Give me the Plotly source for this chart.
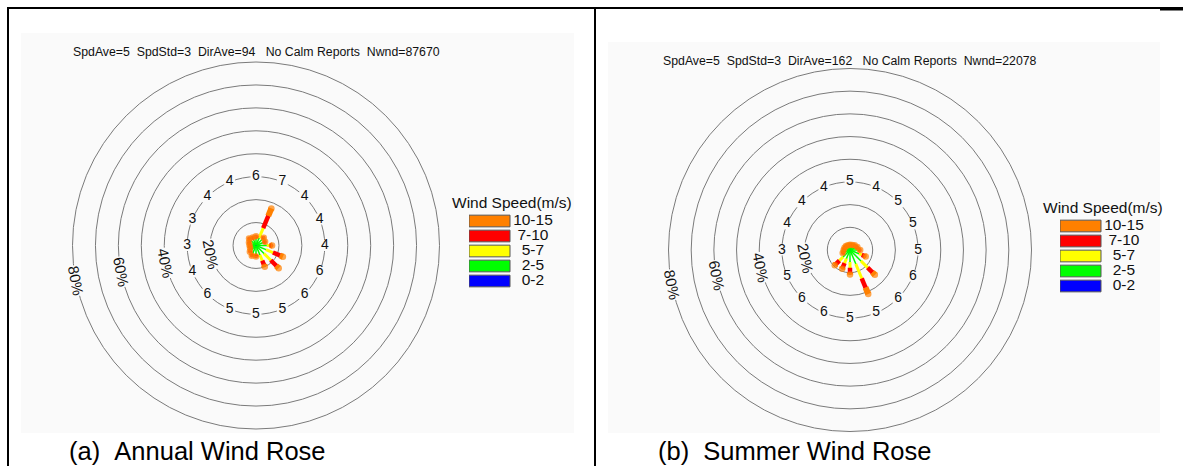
import numpy as np
import plotly.graph_objects as go

# ---------------- data ----------------
directions = ["N", "NNE", "NE", "ENE", "E", "ESE", "SE", "SSE",
              "S", "SSW", "SW", "WSW", "W", "WNW", "NW", "NNW"]
bearings = [0, 22.5, 45, 67.5, 90, 112.5, 135, 157.5,
            180, 202.5, 225, 247.5, 270, 292.5, 315, 337.5]
speed_classes = ["0-2", "2-5", "5-7", "7-10", "10-15"]
class_colors = ["#0000ff", "#00ff00", "#ffff00", "#ff0000", "#ff8000"]
ring_values = [10, 20, 30, 40, 50, 60, 70, 80]
ring_label_values = [20, 40, 60, 80]

# Annual wind rose: frequency (%) per speed class and direction
annual_0_2 = [0.3, 0.3, 0.3, 0.3, 0.3, 0.3, 0.3, 0.3, 0.3, 0.3, 0.3, 0.3, 0.3, 0.3, 0.3, 0.3]
annual_2_5 = [2.9, 3.3, 3.4, 3.1, 4.4, 4.4, 4.6, 4.2, 3.4, 3.4, 2.7, 2.0, 2.1, 2.4, 3.1, 2.8]
annual_5_7 = [0.4, 4.6, 0.6, 0.5, 1.3, 3.3, 4.2, 2.6, 0.6, 0.6, 0.4, 0.3, 0.2, 0.3, 0.5, 0.4]
annual_7_10 = [0.2, 5.8, 0.3, 0.2, 0.6, 3.3, 3.4, 2.0, 0.3, 0.3, 0.2, 0.1, 0.1, 0.2, 0.2, 0.2]
annual_10_15 = [0.2, 3.5, 0.2, 0.2, 0.4, 1.4, 1.5, 0.9, 0.2, 0.2, 0.2, 0.1, 0.1, 0.1, 0.2, 0.1]
annual_avg_speed = [6, 7, 4, 4, 4, 6, 6, 5, 5, 5, 6, 4, 3, 3, 4, 4]
annual_stats = "SpdAve=5  SpdStd=3  DirAve=94   No Calm Reports  Nwnd=87670"
annual_caption = "(a)  Annual Wind Rose"

# Summer wind rose
summer_0_2 = [0.3, 0.3, 0.3, 0.3, 0.3, 0.3, 0.3, 0.3, 0.3, 0.3, 0.3, 0.3, 0.3, 0.3, 0.3, 0.3]
summer_2_5 = [1.5, 1.6, 2.0, 2.3, 3.0, 4.0, 6.5, 6.3, 5.0, 3.8, 4.0, 2.3, 2.2, 1.8, 1.7, 1.5]
summer_5_7 = [0.3, 0.3, 0.3, 0.5, 0.6, 1.3, 4.2, 6.9, 2.5, 2.2, 2.3, 0.5, 0.2, 0.3, 0.3, 0.3]
summer_7_10 = [0.1, 0.1, 0.15, 0.2, 0.3, 1.3, 3.0, 4.4, 2.2, 2.0, 2.2, 0.2, 0.05, 0.1, 0.1, 0.1]
summer_10_15 = [0.1, 0.1, 0.15, 0.2, 0.3, 0.6, 1.5, 3.1, 0.8, 0.7, 0.7, 0.2, 0.05, 0.1, 0.1, 0.1]
summer_avg_speed = [5, 4, 5, 5, 5, 6, 6, 5, 5, 6, 6, 5, 3, 4, 4, 4]
summer_stats = "SpdAve=5  SpdStd=3  DirAve=162   No Calm Reports  Nwnd=22078"
summer_caption = "(b)  Summer Wind Rose"

# ---------------- styles / layout constants ----------------
W, H = 1183, 466
FONT = "Liberation Sans, Arial, sans-serif"
PANEL_BG = "#fafafa"
RING_COLOR = "#7a7a7a"
line_widths = [1.5, 1.5, 3.0, 4.5, 6.0]
cap_sizes = [3.5, 1.5, 3.0, 4.5, 6.5]
LABEL_ANGLE = 191  # math angle (deg, ccw from east) of the % labels

roses = [
    dict(classes=[annual_0_2, annual_2_5, annual_5_7, annual_7_10, annual_10_15],
         avg=annual_avg_speed, stats=annual_stats, caption=annual_caption,
         cx=256, cy=245.5, R=183.5, panel=(21, 33, 574, 433), stats_shift=10,
         legend_x=469, legend_top=213.5, caption_x=68),
    dict(classes=[summer_0_2, summer_2_5, summer_5_7, summer_7_10, summer_10_15],
         avg=summer_avg_speed, stats=summer_stats, caption=summer_caption,
         cx=850, cy=250, R=181.5, panel=(608, 42, 1160, 433), stats_shift=8,
         legend_x=1060, legend_top=218.5, caption_x=657),
]


def px_x(v):
    return v / W


def px_y(v):
    return (H - v) / H


fig = go.Figure()
layout = dict(
    width=W, height=H, margin=dict(l=0, r=0, t=0, b=0),
    paper_bgcolor="white", plot_bgcolor="rgba(0,0,0,0)",
    showlegend=False, hovermode=False, dragmode=False,
    font=dict(family=FONT, color="#111"),
    shapes=[], annotations=[],
)

for n, rose in enumerate(roses, start=1):
    sub = "polar" if n == 1 else f"polar{n}"
    xa = "x" if n == 1 else f"x{n}"
    ya = "y" if n == 1 else f"y{n}"
    cx, cy, R = rose["cx"], rose["cy"], rose["R"]
    xdom = [px_x(cx - R), px_x(cx + R)]
    ydom = [px_y(cy + R), px_y(cy - R)]

    # panel background
    x0, y0, x1, y1 = rose["panel"]
    layout["shapes"].append(dict(type="rect", xref="paper", yref="paper",
                                 x0=px_x(x0), x1=px_x(x1), y0=px_y(y1), y1=px_y(y0),
                                 fillcolor=PANEL_BG, line=dict(width=0), layer="below"))

    # polar subplot (rings)
    layout[sub] = dict(
        domain=dict(x=xdom, y=ydom),
        bgcolor="rgba(0,0,0,0)",
        radialaxis=dict(range=[0, 80], tickvals=ring_values, showticklabels=False,
                        ticks="", showline=False, gridcolor=RING_COLOR, gridwidth=1),
        angularaxis=dict(rotation=90, direction="clockwise", showgrid=False,
                         showticklabels=False, ticks="", showline=True,
                         linecolor=RING_COLOR, linewidth=1),
    )

    # average-speed labels on the 30% ring (masking the ring behind them)
    fig.add_trace(go.Scatterpolar(
        r=[30] * len(bearings), theta=bearings, mode="markers+text",
        text=[str(v) for v in rose["avg"]], textposition="middle center",
        textfont=dict(size=14, color="#111", family=FONT),
        marker=dict(symbol="square", size=11, color=PANEL_BG, line=dict(width=0)),
        subplot=sub, hoverinfo="skip"))

    # petals: stacked speed classes
    pct = np.array(rose["classes"], dtype=float)
    cum = np.cumsum(pct, axis=0)
    start = np.vstack([np.zeros(pct.shape[1]), cum[:-1]])
    for k in range(len(speed_classes)):
        r, th, ms = [], [], []
        for i, b in enumerate(bearings):
            r += [start[k, i], cum[k, i], None]
            th += [b, b, None]
            ms += [0, cap_sizes[k], 0]
        fig.add_trace(go.Scatterpolar(
            r=r, theta=th, mode="lines+markers",
            line=dict(color=class_colors[k], width=line_widths[k]),
            marker=dict(size=ms, color=class_colors[k], line=dict(width=0)),
            subplot=sub, hoverinfo="skip", connectgaps=False))

    # invisible cartesian overlay with the same geometry (for rotated % labels)
    xkey = "xaxis" if n == 1 else f"xaxis{n}"
    ykey = "yaxis" if n == 1 else f"yaxis{n}"
    layout[xkey] = dict(domain=xdom, range=[-80, 80], visible=False, anchor=ya, fixedrange=True)
    layout[ykey] = dict(domain=ydom, range=[-80, 80], visible=False, anchor=xa, fixedrange=True)
    ang = np.radians(LABEL_ANGLE)
    for rv in ring_label_values:
        layout["annotations"].append(dict(
            xref=xa, yref=ya, x=rv * np.cos(ang), y=rv * np.sin(ang),
            text=f"{rv}%", showarrow=False, textangle=90 - (LABEL_ANGLE - 180),
            xanchor="center", yanchor="middle", bgcolor=PANEL_BG, borderpad=0,
            font=dict(size=15, color="#111", family=FONT)))
    # statistics header
    layout["annotations"].append(dict(
        xref=xa, yref=ya, x=0, y=80, yshift=rose["stats_shift"],
        text=rose["stats"].replace(" ", "\u00a0"), showarrow=False,
        xanchor="center", yanchor="middle",
        font=dict(size=12.3, color="#111", family=FONT)))

    # legend as a small bar chart
    lx = "x" + str(n + 2)
    ly = "y" + str(n + 2)
    lt = rose["legend_top"]
    layout["xaxis" + str(n + 2)] = dict(domain=[px_x(rose["legend_x"]), px_x(rose["legend_x"] + 82)],
                                        range=[0, 2], visible=False, anchor=ly, fixedrange=True)
    layout["yaxis" + str(n + 2)] = dict(domain=[px_y(lt + 75), px_y(lt)], range=[-0.5, 4.5],
                                        type="category", categoryorder="array",
                                        categoryarray=speed_classes,
                                        visible=False, anchor=lx, fixedrange=True)
    fig.add_trace(go.Bar(
        y=speed_classes, x=[1] * len(speed_classes), orientation="h", width=0.78,
        marker=dict(color=class_colors, line=dict(color="#555", width=1)),
        xaxis=lx, yaxis=ly, hoverinfo="skip"))
    fig.add_trace(go.Scatter(
        y=speed_classes, x=[1.56] * len(speed_classes), mode="text", text=speed_classes,
        textposition="middle center", cliponaxis=False,
        textfont=dict(size=15.5, color="#111", family=FONT),
        xaxis=lx, yaxis=ly, hoverinfo="skip"))
    layout["annotations"].append(dict(
        xref=lx, yref=ly + " domain", x=1.06, y=1, yanchor="bottom", yshift=1,
        text="Wind Speed(m/s)", showarrow=False, xanchor="center",
        font=dict(size=15.5, color="#111", family=FONT)))

    # caption under the panel (anchored at its bottom so nothing is cut off)
    layout["annotations"].append(dict(
        xref="paper", yref="paper", x=px_x(rose["caption_x"]), y=px_y(466),
        text=rose["caption"].replace(" ", "\u00a0"), showarrow=False,
        xanchor="left", yanchor="bottom", borderpad=0,
        font=dict(size=25.5, color="#000", family=FONT)))

# document table borders
border = dict(color="black", width=2)
layout["shapes"] += [
    dict(type="line", xref="paper", yref="paper", x0=px_x(7), x1=px_x(1183),
         y0=px_y(8), y1=px_y(8), line=border),
    dict(type="line", xref="paper", yref="paper", x0=px_x(1160), x1=px_x(1183),
         y0=px_y(9.5), y1=px_y(9.5), line=dict(color="black", width=2)),
    dict(type="line", xref="paper", yref="paper", x0=px_x(8), x1=px_x(8),
         y0=px_y(8), y1=px_y(466), line=border),
    dict(type="line", xref="paper", yref="paper", x0=px_x(595), x1=px_x(595),
         y0=px_y(8), y1=px_y(466), line=border),
]

fig.update_layout(**layout)
fig.write_html("out.html", config=dict(displayModeBar=False, staticPlot=True))
